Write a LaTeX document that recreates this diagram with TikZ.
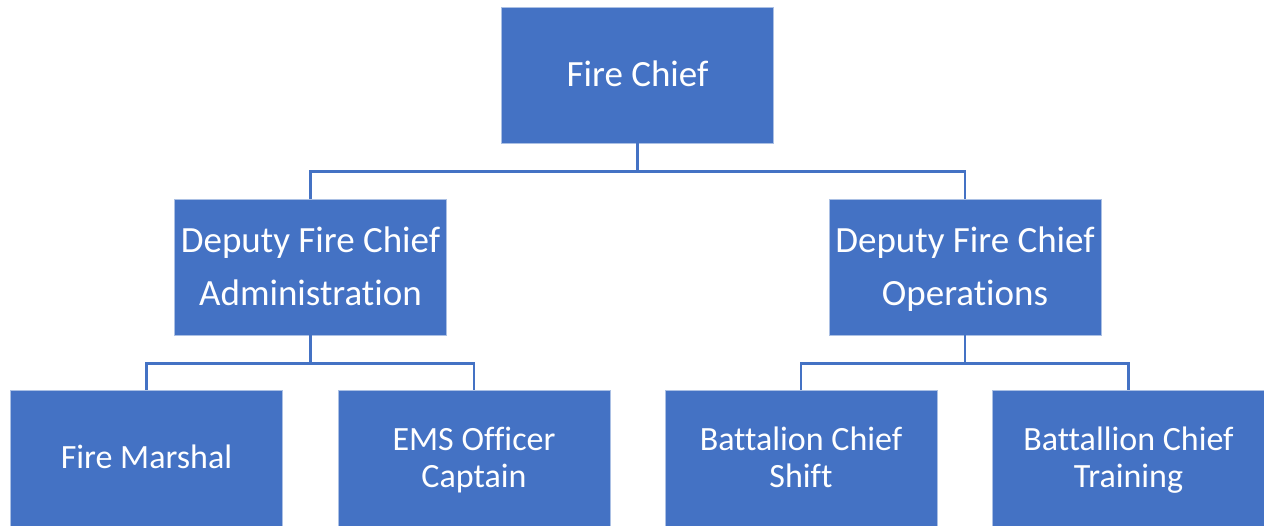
\documentclass[tikz,border=0pt]{standalone}
\usepackage{fontspec}
\setmainfont[Ligatures=NoCommon]{Carlito}
\definecolor{orgblue}{HTML}{4472C4}
\newcommand\bs{\rule[-0.26em]{0pt}{1.16em}}
\newcommand\upperfont{\fontsize{37}{53}\selectfont\lineskiplimit=-60pt\relax}
\newcommand\lowerfont{\fontsize{34}{37}\selectfont\lineskiplimit=-60pt\relax}
\begin{document}
\begin{tikzpicture}[x=1pt, y=-1pt,
	post/.style={rectangle, fill=orgblue, draw=white!55!orgblue, line width=0.8pt,
		minimum width=272pt, minimum height=136pt, text=white, align=center,
		inner sep=0pt},
	upper/.style={post, font=\upperfont},
	lower/.style={post, font=\lowerfont},
	link/.style={draw=orgblue, line width=2.6pt}]
			\useasboundingbox (0,0) rectangle (1264,525);
			\pgfmathsetmacro{\dy}{28}
			\node[upper] (chief) at (637.5,75) {\bs Fire Chief};
			\node[upper] (admin) at (310.5,267) {\bs Deputy Fire Chief\\\bs Administration};
			\node[upper] (ops) at (965,267) {\bs Deputy Fire Chief\\\bs Operations};
			\node[lower] (marshal) at (146.5,458) {\bs Fire Marshal};
			\node[lower] (ems) at (474,458) {\bs EMS Officer\\\bs Captain};
			\node[lower] (shift) at (801,458) {\bs Battalion Chief\\\bs Shift};
			\node[lower] (training) at (1128.5,458) {\bs Battallion Chief\\\bs Training};
			\draw[link] (chief.south) -- ++(0,\dy) -| (admin.north);
			\draw[link] (chief.south) -- ++(0,\dy) -| (ops.north);
			\draw[link] (admin.south) -- ++(0,\dy) -| (marshal.north);
			\draw[link] (admin.south) -- ++(0,\dy) -| (ems.north);
			\draw[link] (ops.south) -- ++(0,\dy) -| (shift.north);
			\draw[link] (ops.south) -- ++(0,\dy) -| (training.north);
\end{tikzpicture}
\end{document}
